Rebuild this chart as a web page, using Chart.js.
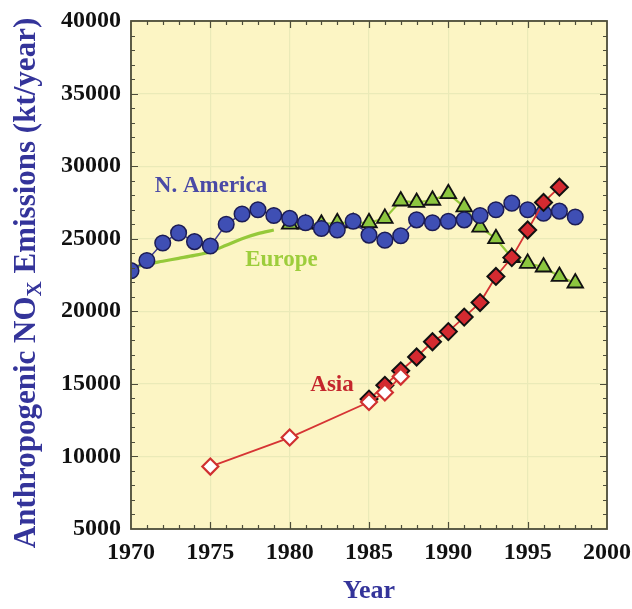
<!DOCTYPE html>
<html>
<head>
<meta charset="utf-8">
<style>
  html, body { margin: 0; padding: 0; background: #fff; }
  #wrap { width: 632px; height: 609px; }
</style>
<script src="https://cdn.jsdelivr.net/npm/chart.js@4.4.1/dist/chart.umd.min.js"></script>
</head>
<body>
<div id="wrap"><canvas id="chartNox"></canvas></div>
<script>
// === Data ===
const naYears = [1970, 1971, 1972, 1973, 1974, 1975, 1976, 1977, 1978, 1979,
  1980, 1981, 1982, 1983, 1984, 1985, 1986, 1987, 1988, 1989,
  1990, 1991, 1992, 1993, 1994, 1995, 1996, 1997, 1998];
const naValues = [22800, 23500, 24700, 25400, 24800, 24500, 26000, 26700, 27000, 26600,
  26400, 26100, 25700, 25600, 26200, 25250, 24900, 25200, 26300, 26100,
  26200, 26300, 26600, 27000, 27450, 27000, 26750, 26900, 26500];

const euLineYears = [1970, 1971, 1972, 1973, 1974, 1975, 1976, 1977, 1978, 1979];
const euLineValues = [23000, 23250, 23450, 23650, 23850, 24100, 24550, 25000, 25350, 25600];

const euYears = [1980, 1981, 1982, 1983, 1984, 1985, 1986, 1987, 1988, 1989,
  1990, 1991, 1992, 1993, 1994, 1995, 1996, 1997, 1998];
const euValues = [26000, 26000, 26000, 26100, 26100, 26100, 26400, 27600, 27500, 27650,
  28100, 27200, 25800, 25000, 23700, 23300, 23050, 22400, 21950];

const asiaYears = [1985, 1986, 1987, 1988, 1989, 1990, 1991, 1992, 1993, 1994, 1995, 1996, 1997];
const asiaValues = [13950, 14900, 15900, 16850, 17900, 18600, 19600, 20600, 22400, 23700, 25600, 27500, 28550];

const asiaOldYears = [1975, 1980, 1985, 1986, 1987];
const asiaOldValues = [9300, 11300, 13750, 14400, 15500];

const xTicks = [1970, 1975, 1980, 1985, 1990, 1995, 2000];
const yTicks = [5000, 10000, 15000, 20000, 25000, 30000, 35000, 40000];

const pts = (xs, ys) => xs.map((x, i) => ({ x: x, y: ys[i] }));

const SERIF = "'Liberation Serif', 'Times New Roman', serif";

// === Plot background, frame, inward ticks and text labels ===
const decor = {
  id: 'decor',
  beforeDraw(chart) {
    const { ctx, chartArea: a } = chart;
    ctx.save();
    ctx.fillStyle = '#fcf5c4';
    ctx.fillRect(a.left, a.top, a.right - a.left, a.bottom - a.top);
    ctx.restore();
  },
  afterDraw(chart) {
    const { ctx, chartArea: a } = chart;
    const sx = chart.scales.x, sy = chart.scales.y;
    ctx.save();
    ctx.strokeStyle = '#4d4d3a';
    ctx.lineWidth = 1.2;
    // minor ticks, pointing inward
    for (let yr = 1971; yr < 2000; yr++) {
      const px = Math.round(sx.getPixelForValue(yr)) + 0.5;
      const len = yr % 5 === 0 ? 7 : 4;
      ctx.beginPath();
      ctx.moveTo(px, a.bottom); ctx.lineTo(px, a.bottom - len);
      ctx.moveTo(px, a.top); ctx.lineTo(px, a.top + len);
      ctx.stroke();
    }
    for (let v = 6000; v < 40000; v += 1000) {
      const py = Math.round(sy.getPixelForValue(v)) + 0.5;
      const len = v % 5000 === 0 ? 7 : 4;
      ctx.beginPath();
      ctx.moveTo(a.left, py); ctx.lineTo(a.left + len, py);
      ctx.moveTo(a.right, py); ctx.lineTo(a.right - len, py);
      ctx.stroke();
    }
    ctx.lineWidth = 1.8;
    ctx.strokeRect(a.left, a.top, a.right - a.left, a.bottom - a.top);

    // series names
    ctx.font = 'bold 23px ' + SERIF;
    ctx.textBaseline = 'alphabetic';
    ctx.textAlign = 'left';
    ctx.fillStyle = '#4a4aa6';
    ctx.fillText('N. America', sx.getPixelForValue(1971.5), sy.getPixelForValue(28200));
    ctx.fillStyle = '#9dcd3c';
    ctx.fillText('Europe', sx.getPixelForValue(1977.2), sy.getPixelForValue(23100));
    ctx.fillStyle = '#c4262c';
    ctx.fillText('Asia', sx.getPixelForValue(1981.3), sy.getPixelForValue(14500));

    // axis titles
    ctx.fillStyle = '#34349a';
    ctx.textAlign = 'center';
    ctx.font = 'bold 26px ' + SERIF;
    ctx.fillText('Year', (a.left + a.right) / 2, 598);

    const big = 'bold 31px ' + SERIF, small = 'bold 21px ' + SERIF;
    const p1 = 'Anthropogenic NO', p2 = 'X', p3 = ' Emissions (kt/year)';
    ctx.font = big; const w1 = ctx.measureText(p1).width, w3 = ctx.measureText(p3).width;
    ctx.font = small; const w2 = ctx.measureText(p2).width;
    const total = w1 + w2 + w3;
    ctx.translate(27, 283);
    ctx.rotate(-Math.PI / 2);
    ctx.textAlign = 'left';
    ctx.textBaseline = 'middle';
    let x0 = -total / 2;
    ctx.font = big; ctx.fillText(p1, x0, 0);
    ctx.font = small; ctx.fillText(p2, x0 + w1, 9);
    ctx.font = big; ctx.fillText(p3, x0 + w1 + w2, 0);
    ctx.restore();
  }
};

const noxCtx = document.getElementById('chartNox');
new Chart(noxCtx, {
  type: 'line',
  data: {
    datasets: [
      {
        label: 'Asia (earlier)',
        data: pts(asiaOldYears, asiaOldValues),
        borderColor: '#d63434',
        borderWidth: 1.8,
        pointStyle: 'rectRot',
        pointRadius: 8,
        pointBackgroundColor: '#ffffff',
        pointBorderColor: '#d03030',
        pointBorderWidth: 2.2,
        order: 0
      },
      {
        label: 'Asia',
        data: pts(asiaYears, asiaValues),
        borderColor: '#d63434',
        borderWidth: 1.8,
        pointStyle: 'rectRot',
        pointRadius: 8.5,
        pointBackgroundColor: '#d42a30',
        pointBorderColor: '#111111',
        pointBorderWidth: 2,
        order: 1
      },
      {
        label: 'N. America',
        data: pts(naYears, naValues),
        borderColor: '#3e3a8e',
        borderWidth: 1.5,
        pointStyle: 'circle',
        pointRadius: 7.8,
        pointBackgroundColor: '#3f4fb4',
        pointBorderColor: '#1c1c55',
        pointBorderWidth: 1.5,
        order: 2
      },
      {
        label: 'Europe',
        data: pts(euYears, euValues),
        borderColor: '#95c93a',
        borderWidth: 2.2,
        pointStyle: 'triangle',
        pointRadius: 9,
        pointBackgroundColor: '#8cc63f',
        pointBorderColor: '#111111',
        pointBorderWidth: 1.8,
        order: 3
      },
      {
        label: 'Europe (line)',
        data: pts(euLineYears, euLineValues),
        borderColor: '#95c93a',
        borderWidth: 3.2,
        pointRadius: 0,
        tension: 0.3,
        order: 4
      }
    ]
  },
  options: {
    responsive: true,
    maintainAspectRatio: false,
    animation: false,
    layout: { padding: { top: 21, right: 0, left: 0, bottom: 0 } },
    scales: {
      x: {
        type: 'linear',
        min: 1970,
        max: 2000,
        afterBuildTicks: s => { s.ticks = xTicks.map(v => ({ value: v })); },
        afterFit: s => { s.height = 80; s.paddingRight = 25; },
        ticks: {
          color: '#111',
          padding: 9,
          maxRotation: 0,
          font: { family: SERIF, size: 24, weight: 'bold' },
          callback: v => String(v)
        },
        grid: { color: '#eaeab8', lineWidth: 1.2, drawTicks: false },
        border: { display: false }
      },
      y: {
        min: 5000,
        max: 40000,
        afterBuildTicks: s => { s.ticks = yTicks.map(v => ({ value: v })); },
        afterFit: s => { s.width = 131; s.paddingTop = 0; },
        ticks: {
          color: '#111',
          padding: 10,
          font: { family: SERIF, size: 24, weight: 'bold' },
          callback: v => String(v)
        },
        grid: { color: '#eaeab8', lineWidth: 1.2, drawTicks: false },
        border: { display: false }
      }
    },
    plugins: {
      legend: { display: false },
      tooltip: { enabled: false }
    }
  },
  plugins: [decor]
});
</script>
</body>
</html>
